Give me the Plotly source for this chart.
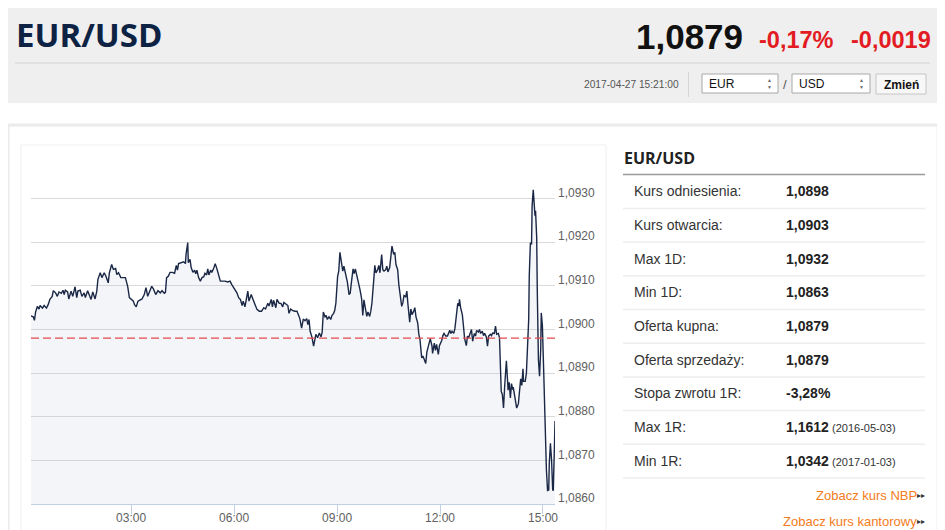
import pandas as pd
import plotly.graph_objects as go

# the page body keeps its default 8px margin, so the figure covers 8..945 x 8..530
PAGE_W, PAGE_H, PAD = 945, 530, 8
W, H = PAGE_W - PAD, PAGE_H - PAD
SANS = 'Liberation Sans, Arial, sans-serif'
HEAD = 'Open Sans, Noto Sans, sans-serif'

# quote header
pair = 'EUR/USD'
last_rate = '1,0879'
change_pct = '-0,17%'
change_abs = '-0,0019'
stamp = '2017-04-27 15:21:00'
day = '2017-04-27'
base_ccy, quote_ccy = 'EUR', 'USD'

# intraday series: minute of day, rate
minutes = [
    5, 9, 11, 13, 16, 19, 21, 25, 28, 32, 35, 38, 42, 44, 48, 51, 54, 58, 61, 63,
    65, 69, 71, 75, 78, 82, 85, 87, 91, 94, 98, 100, 104, 107, 110, 113, 117, 120, 122, 126,
    129, 133, 136, 140, 142, 146, 149, 153, 155, 158, 162, 170, 174, 177, 181, 184, 186, 189, 192, 196,
    199, 203, 206, 209, 212, 216, 219, 223, 227, 231, 234, 238, 240,
    242, 245, 248, 252, 256, 259, 261, 263, 268, 272, 275, 276, 279, 280, 283, 285, 288, 291, 293, 295,
    298, 301, 304, 307, 309, 312, 314, 316, 319, 321, 324, 327, 330, 333, 336, 340, 344, 349, 353, 356,
    359, 362, 365, 368, 371, 374, 376, 379, 382, 384, 386, 390, 392, 394, 397, 400, 404, 408, 412, 415,
    419, 421, 425, 427, 429, 433, 435, 439, 442, 445, 447, 450, 454, 456, 459, 462, 466, 470, 473, 475,
    478, 481, 484, 487, 489, 491,
    493, 496, 499, 501, 503, 506, 509, 512, 514, 516, 519, 521, 523, 526, 529, 531, 534, 536, 538, 541,
    543, 545, 548, 550, 552, 555, 558, 561, 563, 565, 568, 570, 572, 575, 578, 580, 583, 585, 587, 590,
    592, 594, 597, 599, 601, 604, 606, 608, 611, 613, 615, 618, 620, 622, 625, 627, 629, 632, 634, 636,
    639, 641, 643, 646, 648, 650, 653, 655, 657, 660, 662, 664, 667, 669, 671, 674, 676, 678, 681, 683,
    685, 688, 690, 692, 695, 697, 699, 702,
    703, 706, 707, 710, 712, 714, 717, 719, 723, 725, 727, 730, 733, 737, 739, 741, 744, 746, 748, 751,
    753, 754, 756, 759, 761, 763, 766, 768, 770, 773, 775, 777, 780, 782, 784, 787, 789, 791, 794, 796,
    798, 801, 803, 805, 808, 810, 812, 815, 817, 819, 822, 824, 825, 827, 829, 831, 833, 834, 836, 838,
    839, 841, 843, 845, 847, 848, 850, 852, 854, 857, 859, 861, 863, 865, 866, 869, 871, 873, 875, 876,
    878, 880, 881, 883, 885, 886, 887, 889, 890, 892, 894, 896, 897, 899, 901, 903, 904, 906, 908, 910,
    911, 913, 915, 917, 918, 920, 921,
]
rates = [
    1.09031, 1.09029, 1.09021, 1.09040, 1.09053, 1.09047, 1.09055, 1.09049, 1.09055, 1.09049,
    1.09057, 1.09069, 1.09076, 1.09089, 1.09084, 1.09076, 1.09086, 1.09083, 1.09090, 1.09080,
    1.09090, 1.09086, 1.09070, 1.09088, 1.09076, 1.09098, 1.09073, 1.09088, 1.09090, 1.09076,
    1.09084, 1.09073, 1.09089, 1.09080, 1.09069, 1.09086, 1.09070, 1.09088, 1.09115, 1.09130,
    1.09119, 1.09130, 1.09122, 1.09107, 1.09130, 1.09149, 1.09138, 1.09140, 1.09126, 1.09130,
    1.09119, 1.09119, 1.09099, 1.09073, 1.09067, 1.09065, 1.09057, 1.09052, 1.09065, 1.09069,
    1.09070, 1.09080, 1.09096, 1.09076, 1.09088, 1.09099, 1.09093, 1.09080, 1.09089, 1.09084,
    1.09089, 1.09083, 1.09085,
    1.09119, 1.09122, 1.09131, 1.09131, 1.09129, 1.09147, 1.09136, 1.09151, 1.09153, 1.09155,
    1.09151, 1.09172, 1.09199, 1.09153, 1.09161, 1.09142, 1.09131, 1.09136, 1.09128, 1.09136,
    1.09119, 1.09111, 1.09119, 1.09121, 1.09129, 1.09125, 1.09139, 1.09125, 1.09136, 1.09131,
    1.09139, 1.09151, 1.09139, 1.09126, 1.09111, 1.09111, 1.09111, 1.09109, 1.09111, 1.09103,
    1.09096, 1.09088, 1.09084, 1.09073, 1.09069, 1.09055, 1.09065, 1.09052, 1.09069, 1.09088,
    1.09065, 1.09080, 1.09073, 1.09065, 1.09057, 1.09046, 1.09042, 1.09042, 1.09050, 1.09047,
    1.09060, 1.09054, 1.09069, 1.09052, 1.09067, 1.09050, 1.09069, 1.09060, 1.09060, 1.09052,
    1.09062, 1.09058, 1.09055, 1.09037, 1.09047, 1.09044, 1.09042, 1.09042, 1.09029, 1.09025,
    1.09003, 1.09024, 1.09020, 1.09025, 1.09011, 1.09023,
    1.08996, 1.08983, 1.08962, 1.08973, 1.08989, 1.08981, 1.08992, 1.08983, 1.08994, 1.09040,
    1.09029, 1.09032, 1.09023, 1.09029, 1.09023, 1.09032, 1.09037, 1.09044, 1.09061, 1.09122,
    1.09134, 1.09177, 1.09151, 1.09134, 1.09145, 1.09126, 1.09109, 1.09080, 1.09083, 1.09107,
    1.09139, 1.09128, 1.09139, 1.09121, 1.09105, 1.09092, 1.09070, 1.09032, 1.09068, 1.09044,
    1.09030, 1.09040, 1.09030, 1.09042, 1.09061, 1.09111, 1.09147, 1.09130, 1.09137, 1.09147,
    1.09130, 1.09172, 1.09137, 1.09134, 1.09137, 1.09145, 1.09132, 1.09142, 1.09172, 1.09191,
    1.09172, 1.09177, 1.09149, 1.09137, 1.09103, 1.09078, 1.09053, 1.09061, 1.09078, 1.09075,
    1.09088, 1.09057, 1.09017, 1.09047, 1.09034, 1.09042, 1.09050, 1.09029, 1.09015, 1.08989,
    1.08977, 1.08935, 1.08939, 1.08933, 1.08922, 1.08948, 1.08958, 1.08968,
    1.08979, 1.08962, 1.08945, 1.08969, 1.08952, 1.08966, 1.08943, 1.08963, 1.08975, 1.08986,
    1.08991, 1.08985, 1.08985, 1.08998, 1.08991, 1.08996, 1.08991, 1.09002, 1.09031, 1.09060,
    1.09054, 1.09069, 1.09050, 1.09034, 1.09008, 1.08979, 1.08963, 1.08985, 1.08981, 1.08996,
    1.09000, 1.08973, 1.08991, 1.08985, 1.08998, 1.08994, 1.09000, 1.08991, 1.08996, 1.08986,
    1.08991, 1.08983, 1.08962, 1.08985, 1.08989, 1.08986, 1.08992, 1.08991, 1.09008, 1.08989,
    1.08991, 1.08981, 1.08916, 1.08858, 1.08851, 1.08820, 1.08870, 1.08904, 1.08928, 1.08885,
    1.08861, 1.08879, 1.08843, 1.08876, 1.08862, 1.08868, 1.08851, 1.08828, 1.08820, 1.08830,
    1.08862, 1.08887, 1.08872, 1.08910, 1.08881, 1.08881, 1.08900, 1.08950, 1.09023, 1.09123,
    1.09199, 1.09195, 1.09284, 1.09320, 1.09280, 1.09261, 1.09272, 1.09211, 1.09092, 1.08931,
    1.08893, 1.08954, 1.09038, 1.09008, 1.08916, 1.08824, 1.08732, 1.08678, 1.08631, 1.08632,
    1.08693, 1.08739, 1.08701, 1.08631, 1.08632, 1.08732, 1.08790,
]
assert len(minutes) == len(rates)

ref_rate = 1.0898  # kurs odniesienia
y_ticks = [1.0860, 1.0870, 1.0880, 1.0890, 1.0900, 1.0910, 1.0920, 1.0930, 1.0940]
y_labels = [f'{v:.4f}'.replace('.', ',') for v in y_ticks[:-1]] + ['']

# side table
info_labels = ['Kurs odniesienia:', 'Kurs otwarcia:', 'Max 1D:', 'Min 1D:', 'Oferta kupna:',
               'Oferta sprzedaży:', 'Stopa zwrotu 1R:', 'Max 1R:', 'Min 1R:']
info_values = ['1,0898', '1,0903', '1,0932', '1,0863', '1,0879', '1,0879', '-3,28%', '1,1612', '1,0342']
info_dates = ['', '', '', '', '', '', '', '(2016-05-03)', '(2017-01-03)']
links = ['Zobacz kurs NBP', 'Zobacz kurs kantorowy']


# page pixel -> paper fraction
def X(p):
    return (p - PAD) / W


def Y(p):
    return 1 - (p - PAD) / H


times = pd.Timestamp(day) + pd.to_timedelta(minutes, unit='min')

fig = go.Figure()
fig.add_trace(go.Scatter(
    x=times, y=rates, mode='lines', fill='tozeroy',
    fillcolor='rgba(185,195,215,0.16)',
    line=dict(color='#1a2846', width=1.4),
    hoverinfo='skip', showlegend=False,
))


def box(x0, y0, x1, y1, fill=None, line=None, width=1):
    fig.add_shape(type='rect', xref='paper', yref='paper', layer='below',
                  x0=X(x0), x1=X(x1), y0=Y(y1), y1=Y(y0),
                  fillcolor=fill or 'rgba(0,0,0,0)',
                  line=dict(color=line or 'rgba(0,0,0,0)', width=width if line else 0))


def seg(x0, y0, x1, y1, color, width=1):
    fig.add_shape(type='line', xref='paper', yref='paper', layer='below',
                  x0=X(x0), x1=X(x1), y0=Y(y0), y1=Y(y1), line=dict(color=color, width=width))


def text(x, y, s, size, color, bold=False, anchor='left', family=SANS):
    fig.add_annotation(x=X(x), y=Y(y), xref='paper', yref='paper', showarrow=False,
                       text=f'<b>{s}</b>' if bold else s, xanchor=anchor, yanchor='middle',
                       font=dict(size=size, color=color, family=family))


# header block
box(6, 7, 939, 103, fill='#efefef')
seg(15, 63, 930, 63, '#d2d2d2')
seg(688.5, 72, 688.5, 97, '#d6d6d6')
box(702, 74, 778, 93, fill='#ffffff', line='#a8a8a8')
box(792, 74, 870, 93, fill='#ffffff', line='#a8a8a8')
box(876, 74, 926, 94, fill='#f7f7f7', line='#c6c6c6')

text(14, 35, pair, 33, '#0e2344', bold=True, family=HEAD)
text(745, 36.5, last_rate, 35, '#111111', bold=True, anchor='right')
text(757, 40, change_pct, 23.5, '#e31b23', bold=True)
text(933, 40, change_abs, 23.5, '#e31b23', bold=True, anchor='right')
text(681, 84, stamp, 10.2, '#555555', anchor='right')
text(707, 83.5, base_ccy, 12, '#111111')
text(797, 83.5, quote_ccy, 12, '#111111')
text(785, 84.5, '/', 13, '#555555', anchor='center')
for ax in (769.5, 861.5):
    text(ax, 80.5, '▲', 5, '#666666', anchor='center')
    text(ax, 86.5, '▼', 5, '#666666', anchor='center')
text(901, 84.5, 'Zmień', 12, '#111111', bold=True, anchor='center')

# main panel and chart container
box(8, 125, 938, 600, fill='#ffffff', line='#ebebeb', width=3)
box(21, 145, 606, 600, line='#efefef', width=1)

# side table
text(622, 157.5, pair, 16, '#222222', bold=True, family=HEAD)
seg(623, 174.5, 925, 174.5, '#9a9a9a', 1.5)
row0, pitch = 191.2, 33.7
for i, (lab, val, dt) in enumerate(zip(info_labels, info_values, info_dates)):
    ry = row0 + i * pitch
    text(632, ry, lab, 14, '#333333')
    text(784, ry, val, 14, '#222222', bold=True)
    if dt:
        text(830, ry + 1, dt, 11, '#333333')
    seg(623, ry + 17.2, 925, ry + 17.2, '#eeeeee', 1.5)
for i, lk in enumerate(links):
    ly = 495 + i * 26.7
    text(919, ly, lk, 13, '#f47b20', anchor='right')
    text(927, ly, '▸▸', 8, '#333333', anchor='right')

# reference rate
fig.add_hline(y=ref_rate, line=dict(color='#e5484d', width=1.3, dash='8px,4px'))

fig.update_layout(
    width=W, height=H,
    margin=dict(l=0, r=0, t=0, b=0, autoexpand=False),
    paper_bgcolor='#ffffff', plot_bgcolor='rgba(0,0,0,0)',
    font=dict(family=SANS, size=12, color='#606060'),
    showlegend=False,
    xaxis=dict(
        domain=[X(31), X(555)], type='date', automargin=False,
        range=[times[0], times[-1]],
        tick0=f'{day} 00:00', dtick=3 * 3600 * 1000, tickformat='%H:%M',
        ticks='outside', ticklen=9, tickcolor='#c0d0e0', tickwidth=1,
        showline=True, linecolor='#c0d0e0', linewidth=1,
        showgrid=False, zeroline=False, ticklabelstandoff=-6,
        tickfont=dict(size=12, color='#606060'),
    ),
    yaxis=dict(
        domain=[Y(504), Y(155)], range=[y_ticks[0], y_ticks[-1]], automargin=False,
        side='right', tickmode='array', tickvals=y_ticks, ticktext=y_labels,
        ticks='', ticklabelshift=-6, ticklabelstandoff=2,
        showgrid=True, gridcolor='#d9d9d9', gridwidth=1, zeroline=False,
        tickfont=dict(size=12, color='#606060'),
    ),
)

fig.write_html('out.html', config={'displayModeBar': False})
